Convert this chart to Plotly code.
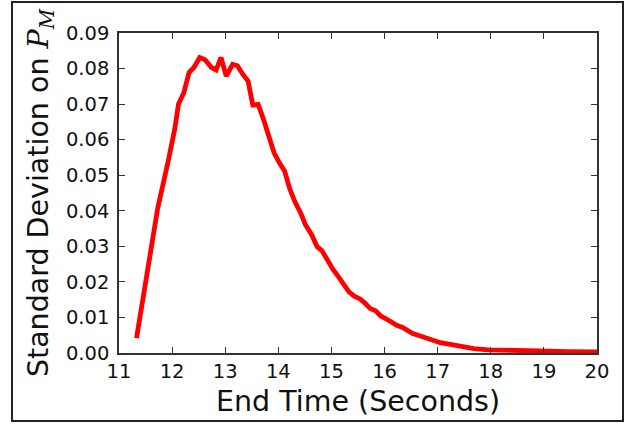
import plotly.graph_objects as go

# Data
end_time = [11.33, 11.50, 11.63, 11.73, 11.92, 12.05, 12.12, 12.22, 12.32, 12.41,
            12.52, 12.62, 12.74, 12.83, 12.92, 13.02, 13.14, 13.23, 13.33, 13.43,
            13.52, 13.62, 13.71, 13.83, 13.92, 14.02, 14.12, 14.21, 14.31, 14.42,
            14.51, 14.63, 14.73, 14.82, 14.92, 15.03, 15.12, 15.22, 15.33, 15.43,
            15.54, 15.64, 15.73, 15.83, 15.93, 16.02, 16.13, 16.23, 16.34, 16.43,
            16.53, 16.63, 16.75, 16.84, 16.94, 17.05, 17.24, 17.45, 17.68, 17.95,
            18.33, 18.71, 19.10, 19.47, 20.00]
std_pm = [0.0042, 0.0196, 0.0326, 0.0408, 0.0535, 0.0630, 0.0700, 0.0732, 0.0789, 0.0803,
          0.0831, 0.0825, 0.0803, 0.0796, 0.0831, 0.0779, 0.0812, 0.0808, 0.0784, 0.0765,
          0.0697, 0.0699, 0.0662, 0.0610, 0.0563, 0.0535, 0.0511, 0.0464, 0.0426, 0.0394,
          0.0361, 0.0332, 0.0299, 0.0288, 0.0262, 0.0235, 0.0217, 0.0198, 0.0172, 0.0160,
          0.0152, 0.0139, 0.0125, 0.0119, 0.0104, 0.0097, 0.0085, 0.0078, 0.0072, 0.0062,
          0.0055, 0.0050, 0.0043, 0.0038, 0.0034, 0.0029, 0.0024, 0.0017, 0.0012, 0.0009,
          0.0007, 0.0006, 0.0005, 0.0004, 0.0003]

x_ticks = [11, 12, 13, 14, 15, 16, 17, 18, 19, 20]
y_ticks = [0.00, 0.01, 0.02, 0.03, 0.04, 0.05, 0.06, 0.07, 0.08, 0.09]

x_title = "End Time (Seconds)"
y_title = ("Standard Deviation on "
           "<span style='font-family:DejaVu Serif'><i>P</i><sub><i>M</i></sub></span>")

FONT = "DejaVu Sans"
AX = "#333333"

fig = go.Figure()
fig.add_trace(go.Scatter(x=end_time, y=std_pm, mode="lines",
                         line=dict(color="#ff0000", width=4.8),
                         showlegend=False, hoverinfo="skip"))

axis_common = dict(showgrid=False, zeroline=False, showline=True, linecolor=AX,
                   linewidth=1.5, mirror="ticks", ticks="inside", ticklen=6,
                   tickwidth=1.2, tickcolor=AX,
                   tickfont=dict(family=FONT, size=19.5, color="#111111"))

fig.update_xaxes(range=[11, 20], tickvals=x_ticks, ticktext=[str(v) for v in x_ticks],
                 ticklabelstandoff=0,
                 title=dict(text=x_title, font=dict(family=FONT, size=28.5, color="#111111"),
                            standoff=9),
                 **axis_common)
fig.update_yaxes(range=[0, 0.09], tickvals=y_ticks, ticktext=[f"{v:.2f}" for v in y_ticks],
                 ticklabelstandoff=4,
                 title=dict(text=y_title, font=dict(family=FONT, size=28.5, color="#111111"),
                            standoff=9),
                 **axis_common)

# outer figure frame
fig.add_shape(type="rect", xref="paper", yref="paper",
              x0=-0.2238, x1=1.0544, y0=-0.2125, y1=1.0969,
              line=dict(color="#222222", width=2), layer="above")

fig.update_layout(width=636, height=424,
                  margin=dict(l=119, r=39, t=33, b=71, autoexpand=False),
                  paper_bgcolor="white", plot_bgcolor="white",
                  font=dict(family=FONT))

fig.write_html("out.html", config={"displayModeBar": False},
               post_script="document.body.style.margin='0';")
